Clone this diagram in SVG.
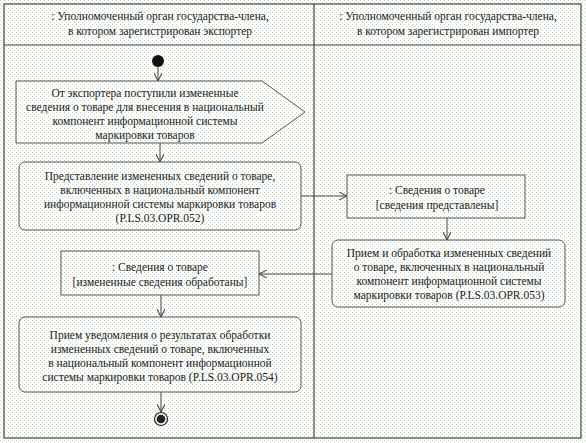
<svg xmlns="http://www.w3.org/2000/svg" width="586" height="443" viewBox="0 0 586 443">
<defs>
<pattern id="dots" width="4" height="4" patternUnits="userSpaceOnUse">
<rect width="4" height="4" fill="#ffffff"/>
<rect x="0" y="0" width="1" height="1" fill="#b9d6b0"/>
<rect x="2" y="2" width="1" height="1" fill="#c9ddc3"/>
</pattern>
<marker id="arr" viewBox="0 0 10 10" refX="10" refY="5" markerWidth="8" markerHeight="8" markerUnits="userSpaceOnUse" orient="auto">
<path d="M0,0 L10,5 L0,10" fill="none" stroke="#444" stroke-width="1.3"/>
</marker>
</defs>
<style>
text{font-family:"Liberation Serif","Times New Roman",serif;font-size:11.5px;fill:#1a1a1a;text-anchor:middle}
.box{fill:none;stroke:#555;stroke-width:1}
.lane{fill:none;stroke:#444;stroke-width:1.2}
.conn{fill:none;stroke:#444;stroke-width:1;marker-end:url(#arr)}
</style>
<rect width="586" height="443" fill="url(#dots)"/>
<g id="swimlanes">
<rect class="lane" x="4" y="4" width="577" height="434"/>
<line class="lane" x1="4" y1="45" x2="581" y2="45"/>
<line class="lane" x1="314" y1="4" x2="314" y2="438"/>
<text x="160" y="20">: Уполномоченный орган государства-члена,</text>
<text x="160" y="35">в котором зарегистрирован экспортер</text>
<text x="448" y="20">: Уполномоченный орган государства-члена,</text>
<text x="448" y="35">в котором зарегистрирован импортер</text>
</g>
<g id="connectors">
<line class="conn" x1="158" y1="67" x2="158" y2="81"/>
<line class="conn" x1="160" y1="143" x2="160" y2="162"/>
<line class="conn" x1="301" y1="196" x2="347" y2="196"/>
<line class="conn" x1="447" y1="218" x2="447" y2="240"/>
<line class="conn" x1="332" y1="274" x2="259" y2="274"/>
<line class="conn" x1="161" y1="295" x2="161" y2="317"/>
<line class="conn" x1="161" y1="392" x2="161" y2="412"/>
</g>
<g id="start">
<circle cx="158" cy="61" r="6" fill="#111"/>
</g>
<g id="signal">
<path class="box" d="M16,81 H262 L305,112 L262,143 H16 Z"/>
<text x="145" y="97">От экспортера поступили измененные</text>
<text x="145" y="111">сведения о товаре для внесения в национальный</text>
<text x="145" y="125">компонент информационной системы</text>
<text x="145" y="139">маркировки товаров</text>
</g>
<g id="action1">
<rect class="box" x="19" y="162" width="282" height="68" rx="6"/>
<text x="160" y="180">Представление измененных сведений о товаре,</text>
<text x="160" y="194">включенных в национальный компонент</text>
<text x="160" y="208">информационной системы маркировки товаров</text>
<text x="160" y="222">(P.LS.03.OPR.052)</text>
</g>
<g id="object1">
<rect class="box" x="347" y="175" width="178" height="43"/>
<text x="437" y="194">: Сведения о товаре</text>
<text x="437" y="209">[сведения представлены]</text>
</g>
<g id="action2">
<rect class="box" x="332" y="240" width="233" height="67" rx="6"/>
<text x="449" y="257">Прием и обработка измененных сведений</text>
<text x="449" y="271">о товаре, включенных в национальный</text>
<text x="449" y="285">компонент информационной системы</text>
<text x="449" y="299">маркировки товаров (P.LS.03.OPR.053)</text>
</g>
<g id="object2">
<rect class="box" x="61" y="251" width="198" height="44"/>
<text x="160" y="271">: Сведения о товаре</text>
<text x="160" y="286">[измененные сведения обработаны]</text>
</g>
<g id="action3">
<rect class="box" x="19" y="317" width="282" height="75" rx="6"/>
<text x="160" y="339">Прием уведомления о результатах обработки</text>
<text x="160" y="353">измененных сведений о товаре, включенных</text>
<text x="160" y="367">в национальный компонент информационной</text>
<text x="160" y="381">системы маркировки товаров (P.LS.03.OPR.054)</text>
</g>
<g id="end">
<circle cx="161" cy="419" r="6.5" fill="none" stroke="#222" stroke-width="1.2"/>
<circle cx="161" cy="419" r="4.3" fill="#222"/>
</g>
</svg>
